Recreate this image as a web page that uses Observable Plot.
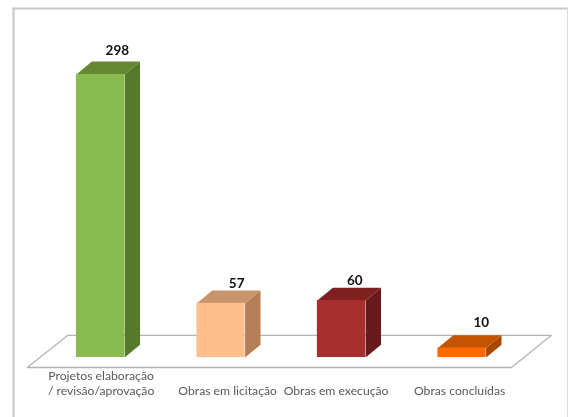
<!DOCTYPE html>
<html>
<head>
<meta charset="utf-8">
<script src="https://cdn.jsdelivr.net/npm/d3@7"></script>
<script src="https://cdn.jsdelivr.net/npm/@observablehq/plot@0.6"></script>
<style>
html,body{margin:0;padding:0;background:#fff;overflow:hidden}
svg{display:block;filter:blur(0.35px)}
</style>
</head>
<body>
<div id="chart"></div>
<script>
const categories = ["Projetos elaboração\n/ revisão/aprovação", "Obras em licitação", "Obras em execução", "Obras concluídas"];
const values = [298, 57, 60, 10];
const frontColors = ["#8abb50", "#fcbf8d", "#a82f30", "#ff6a00"];
const sideColors = ["#567a2c", "#b47f56", "#6a1a1b", "#a84600"];
const topColors = ["#64882f", "#c8946a", "#7e1f20", "#c45400"];

// Oblique-projection layout, expressed in scale units
const halfBar = 0.2, depthX = 0.128, depthY = 13.5;
const labelShift = [0.005, 0.055, -0.045, -0.02];
const valueShiftX = [0.14, 0.13, 0.11, 0.16];
const valueShiftY = [0, -4, -4, 2];
const polys = [];
const poly = (id, color, pts) => pts.forEach(([x, y]) => polys.push({id, color, x, y}));
values.forEach((v, i) => {
  const l = i - halfBar, r = i + halfBar;
  poly("s" + i, sideColors[i], [[r, 0], [r + depthX, depthY], [r + depthX, v + depthY], [r, v]]);
  poly("t" + i, topColors[i], [[l, v], [r, v], [r + depthX, v + depthY], [l + depthX, v + depthY]]);
});
const floor = [[-0.6075, -10.5], [3.41, -10.5], [3.74, 23.2], [-0.274, 23.2]].map(([x, y]) => ({x, y}));
const bars = values.map((v, i) => ({i, v, color: frontColors[i], label: categories[i]}));

const pxPerIndex = 120.5, pxPerValue = 0.95;
const chart = Plot.plot({
  width: 568, height: 417,
  marginLeft: 13, marginTop: 8, marginRight: 1, marginBottom: 0,
  style: {background: "#fff", fontFamily: "Lato, sans-serif"},
  x: {type: "linear", domain: [(13 - 100) / pxPerIndex, (567 - 100) / pxPerIndex], axis: null},
  y: {type: "linear", domain: [(357 - 417) / pxPerValue, (357 - 8) / pxPerValue], axis: null},
  marks: [
    Plot.frame({anchor: "top", stroke: "#c8c8c8", strokeWidth: 2}),
    Plot.frame({anchor: "left", stroke: "#c8c8c8", strokeWidth: 2}),
    Plot.frame({anchor: "right", stroke: "#dcdcdc", strokeWidth: 1}),
    Plot.line(floor, {x: "x", y: "y", curve: "linear-closed", fill: "#fff", stroke: "#b4b4b4", strokeWidth: 1.3}),
    Plot.line(polys, {x: "x", y: "y", z: "id", fill: "color", stroke: "none", curve: "linear-closed"}),
    Plot.rect(bars, {x1: d => d.i - halfBar, x2: d => d.i + halfBar, y1: 0, y2: "v", fill: "color"}),
    Plot.text(bars, {
      x: d => d.i + valueShiftX[d.i],
      y: d => d.v + depthY + valueShiftY[d.i],
      dy: -11,
      text: d => String(d.v),
      fontWeight: 700, fontSize: 13.5, fill: "#111", fontFamily: "Lato, sans-serif"
    }),
    Plot.text(bars, {
      x: d => d.i + labelShift[d.i],
      y: 0,
      dy: 37.5,
      text: "label",
      lineAnchor: "bottom",
      lineHeight: 1.27,
      fontSize: 12.2, fill: "#595959", fontFamily: "Lato, sans-serif"
    })
  ]
});
document.getElementById("chart").append(chart);
</script>
</body>
</html>
